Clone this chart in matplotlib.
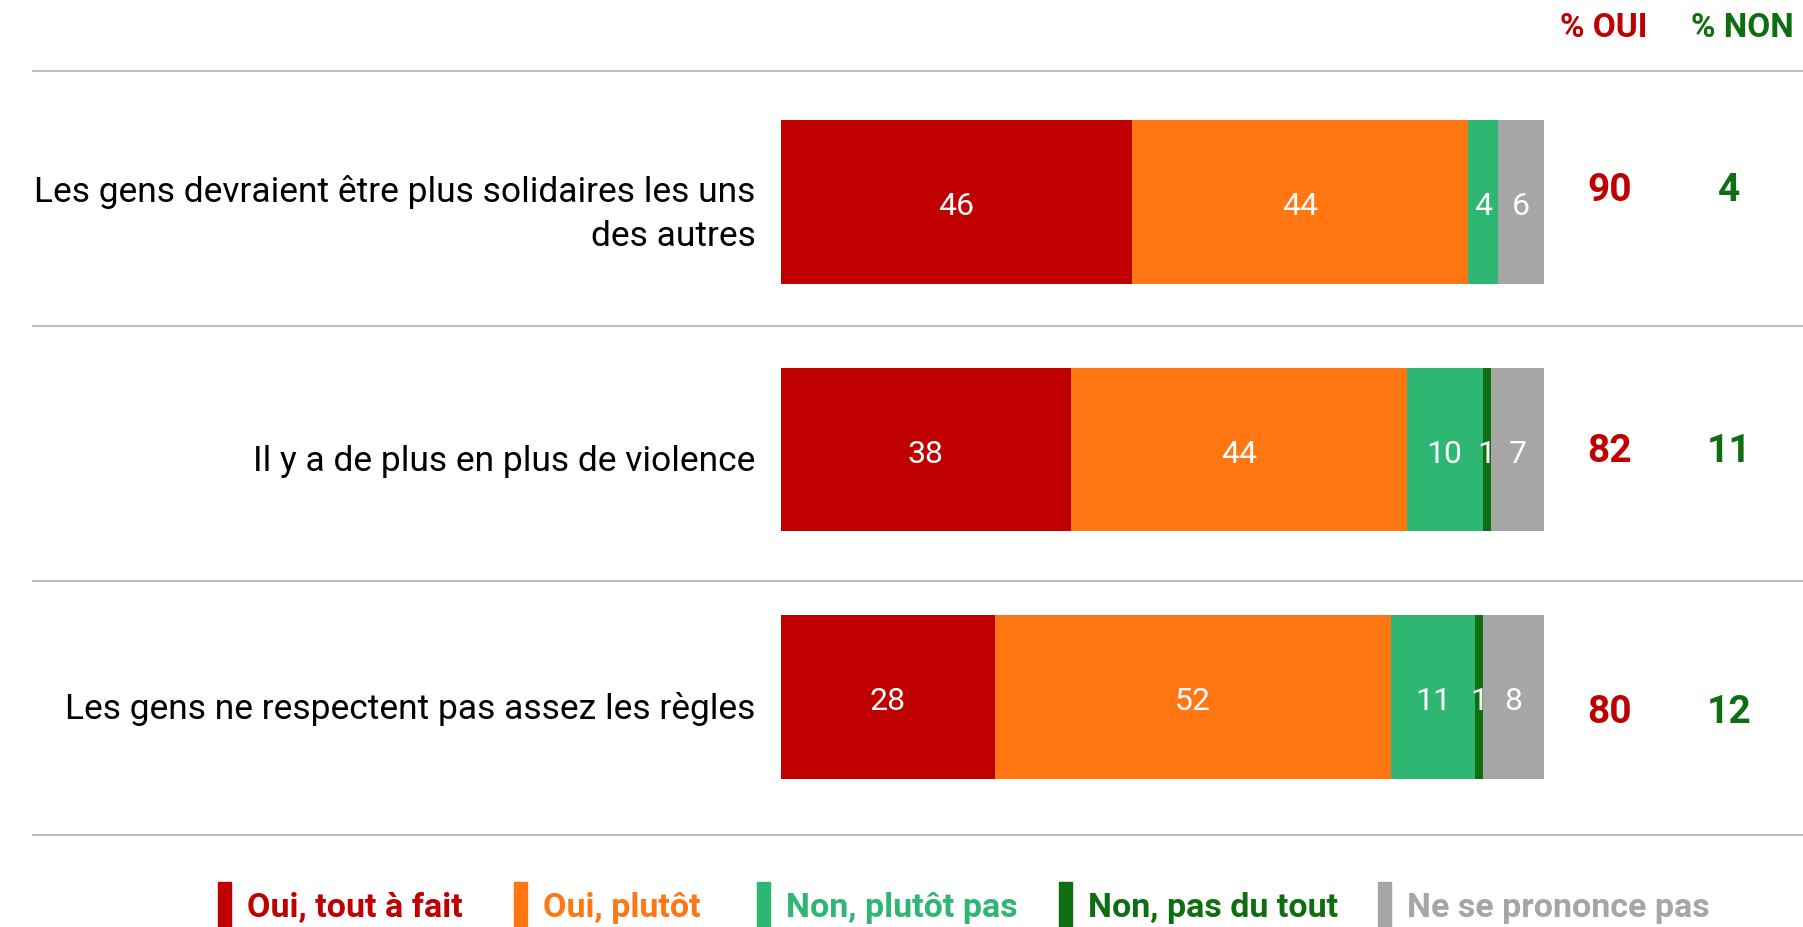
import matplotlib.pyplot as plt
from matplotlib.patches import Rectangle
import numpy as np

plt.rcParams['font.family'] = ['Roboto', 'DejaVu Sans']

categories = ['Les gens devraient être plus solidaires les uns\ndes autres',
              'Il y a de plus en plus de violence',
              'Les gens ne respectent pas assez les règles']
series = ['Oui, tout à fait', 'Oui, plutôt', 'Non, plutôt pas', 'Non, pas du tout', 'Ne se prononce pas']
values = [[46, 38, 28],
          [44, 44, 52],
          [4, 10, 11],
          [0, 1, 1],
          [6, 7, 8]]
pct_oui = [90, 82, 80]
pct_non = [4, 11, 12]
colors = ['#C00000', '#FF7612', '#2EB673', '#0F6E10', '#A6A6A6']
red = '#C00000'
green = '#0F6E10'

W, H = 1803, 928
fig = plt.figure(figsize=(W / 100, H / 100), dpi=100)
# axes: x 0..100 maps to px 781..1544, rows centred at px 203 / 452 / 698
ax = fig.add_axes([781 / W, 1 - 822 / H, 763 / W, 743 / H])
ax.set_xlim(0, 100)
ax.set_ylim(len(categories) - 0.5, -0.5)
ax.axis('off')

y = np.arange(len(categories))
left = np.zeros(len(categories))
for vals, col in zip(values, colors):
    vals = np.array(vals, dtype=float)
    ax.barh(y, vals, left=left, height=0.66, color=col, edgecolor='none')
    for yi, v, l in zip(y, vals, left):
        if v > 0:
            ax.text(l + v / 2, yi + 0.015, '%d' % v, ha='center', va='center',
                    color='white', fontsize=23)
    left += vals

# category labels
for yi, cat in zip(y, categories):
    ax.text(-3.3, yi + 0.045, cat, ha='right', va='center', fontsize=25.5,
            color='black', linespacing=1.4)

# totals
tot_y = [191, 452, 713]
for ty, o, n in zip(tot_y, pct_oui, pct_non):
    fig.text(1610 / W, 1 - ty / H, str(o), ha='center', va='center', color=red,
             fontsize=28, fontweight='bold')
    fig.text(1729 / W, 1 - ty / H, str(n), ha='center', va='center', color=green,
             fontsize=28, fontweight='bold')
fig.text(1604 / W, 1 - 28 / H, '% OUI', ha='center', va='center', color=red,
         fontsize=24, fontweight='bold')
fig.text(1742 / W, 1 - 28 / H, '% NON', ha='center', va='center', color=green,
         fontsize=24, fontweight='bold')

# separator lines
for ly in [72, 327, 582, 836]:
    fig.add_artist(plt.Line2D([33 / W, 1.0], [1 - ly / H, 1 - ly / H],
                              color='#BFBFBF', lw=1.5))

# legend
leg_x = [218, 514, 757, 1059, 1378]
for lx, name, col in zip(leg_x, series, colors):
    fig.patches.append(Rectangle((lx / W, 0), 13 / W, 45 / H, color=col,
                                 transform=fig.transFigure))
    fig.text((lx + 29) / W, 1 - 908 / H, name, ha='left', va='center',
             color=col, fontsize=24.5, fontweight='bold')

fig.savefig('out.png', dpi=100)
